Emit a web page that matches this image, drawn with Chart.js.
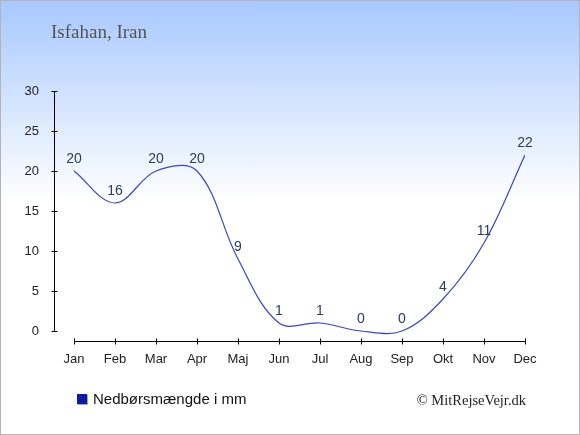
<!DOCTYPE html>
<html>
<head>
<meta charset="utf-8">
<script src="https://cdn.jsdelivr.net/npm/chart.js@4.4.1/dist/chart.umd.min.js"></script>
<style>
  html, body { margin: 0; padding: 0; background: #fff; }
  #frame {
    position: relative;
    width: 580px;
    height: 435px;
    box-sizing: border-box;
    border: 1px solid #b4b4b4;
    background: linear-gradient(to bottom, #a8c8ff 0px, #ffffff 200px, #ffffff 100%);
  }
  #chart { position: absolute; left: -1px; top: -1px; }
</style>
</head>
<body>
<div id="frame"><canvas id="chart" width="580" height="435"></canvas></div>
<script>
// Chart data
const months = ['Jan', 'Feb', 'Mar', 'Apr', 'Maj', 'Jun', 'Jul', 'Aug', 'Sep', 'Okt', 'Nov', 'Dec'];
const precipitation = [20, 16, 20, 20, 9, 1, 1, 0, 0, 4, 11, 22];
const yTicks = [0, 5, 10, 15, 20, 25, 30];
const seriesLabel = 'Nedbørsmængde i mm';
const titleText = 'Isfahan, Iran';
const creditText = '© MitRejseVejr.dk';

const sansFont = '"Liberation Sans", Arial, sans-serif';
const serifFont = '"Liberation Serif", "Times New Roman", serif';

// Axes, labels, title, legend and credit drawn on top of the chart
const decorPlugin = {
    id: 'decor',
    afterDatasetsDraw(chart) {
        const ctx = chart.ctx;
        const meta = chart.getDatasetMeta(0);
        ctx.save();
        ctx.fillStyle = '#2c3b5a';
        ctx.font = '14px ' + sansFont;
        ctx.textAlign = 'center';
        ctx.textBaseline = 'alphabetic';
        meta.data.forEach((pt, i) => {
            ctx.fillText(String(precipitation[i]), pt.x, pt.y - 8.5);
        });
        ctx.restore();
    },
    afterDraw(chart) {
        const { ctx, scales: { x, y } } = chart;
        const sharp = v => Math.round(v) + 0.5;
        ctx.save();

        // y axis line and ticks
        ctx.strokeStyle = '#000';
        ctx.lineWidth = 1;
        ctx.beginPath();
        const ax = sharp(x.getPixelForValue(x.min));
        const yTop = Math.round(y.getPixelForValue(yTicks[yTicks.length - 1]));
        const yZero = Math.round(y.getPixelForValue(yTicks[0]));
        ctx.moveTo(ax, yTop);
        ctx.lineTo(ax, yZero + 1);
        y.ticks.forEach(t => {
            const py = sharp(y.getPixelForValue(t.value));
            ctx.moveTo(ax - 3, py);
            ctx.lineTo(ax + 3, py);
        });

        // x axis line and ticks
        const ay = sharp(y.getPixelForValue(y.min));
        const xFirst = Math.round(x.getPixelForValue(0));
        const xLast = Math.round(x.getPixelForValue(months.length - 1));
        ctx.moveTo(xFirst, ay);
        ctx.lineTo(xLast + 1, ay);
        x.ticks.forEach(t => {
            const px = sharp(x.getPixelForValue(t.value));
            ctx.moveTo(px, ay - 3);
            ctx.lineTo(px, ay + 3);
        });
        ctx.stroke();

        // title
        ctx.fillStyle = '#555555';
        ctx.font = '19px ' + serifFont;
        ctx.textAlign = 'left';
        ctx.textBaseline = 'alphabetic';
        ctx.fillText(titleText, 51, 38);

        // legend
        const color = chart.data.datasets[0].legendColor;
        ctx.fillStyle = '#9aa3d8';
        ctx.fillRect(78, 395, 10, 10);
        ctx.fillStyle = color;
        ctx.fillRect(77, 394, 10, 10);
        ctx.fillStyle = '#111';
        ctx.font = '15px ' + sansFont;
        ctx.fillText(chart.data.datasets[0].label, 93, 403.5);

        // credit
        ctx.fillStyle = '#222';
        ctx.font = '14.5px ' + serifFont;
        ctx.textAlign = 'right';
        ctx.fillText(creditText, 526, 405);

        ctx.restore();
    }
};

const ctx = document.getElementById('chart').getContext('2d');

new Chart(ctx, {
    type: 'line',
    data: {
        datasets: [{
            label: seriesLabel,
            data: months.map((m, i) => ({ x: i, y: precipitation[i] })),
            borderColor: '#3a44c4',
            legendColor: '#0c1aa6',
            borderWidth: 1.2,
            pointRadius: 0,
            tension: 0.36,
            fill: false
        }]
    },
    options: {
        responsive: false,
        animation: false,
        devicePixelRatio: 1,
        layout: { padding: { left: 0, right: 55, top: 91, bottom: 0 } },
        plugins: {
            legend: { display: false },
            title: { display: false },
            tooltip: { enabled: false }
        },
        scales: {
            x: {
                type: 'linear',
                min: -20 / 41,
                max: months.length - 1,
                grid: { display: false },
                border: { display: false },
                afterBuildTicks: scale => {
                    scale.ticks = months.map((m, i) => ({ value: i }));
                },
                afterFit: scale => { scale.height = 94; },
                ticks: {
                    autoSkip: false,
                    maxRotation: 0,
                    padding: 3,
                    color: '#222',
                    font: { family: sansFont, size: 13 },
                    callback: v => months[v]
                }
            },
            y: {
                min: -1.25,
                max: 30,
                grid: { display: false },
                border: { display: false },
                afterBuildTicks: scale => {
                    scale.ticks = yTicks.map(v => ({ value: v }));
                },
                afterFit: scale => { scale.width = 54; },
                ticks: {
                    padding: 7,
                    color: '#222',
                    font: { family: sansFont, size: 13 }
                }
            }
        }
    },
    plugins: [decorPlugin]
});
</script>
</body>
</html>
